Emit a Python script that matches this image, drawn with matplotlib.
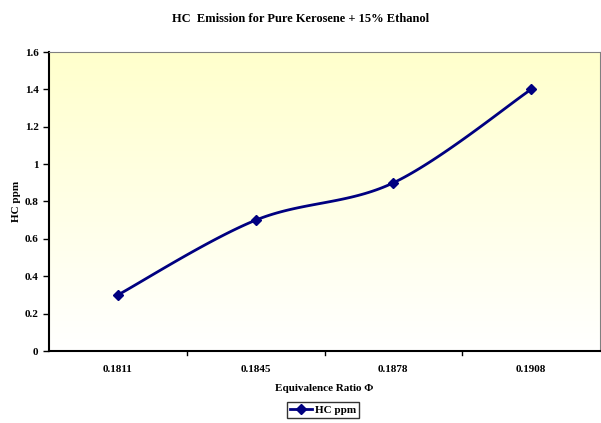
import numpy as np
import matplotlib.pyplot as plt
from matplotlib.lines import Line2D

categories = ["0.1811", "0.1845", "0.1878", "0.1908"]
hc_ppm = [0.3, 0.7, 0.9, 1.4]

plt.rcParams['font.family'] = ['Liberation Serif', 'DejaVu Serif']
plt.rcParams['font.weight'] = 'bold'

fig = plt.figure(figsize=(6.01, 4.23), dpi=100)
ax = fig.add_axes([49/601, 1 - 351/423, 551/601, 299/423])

# gradient background: pale yellow at top -> white at bottom
grad = np.linspace(0, 1, 256).reshape(-1, 1)
top = np.array([1.0, 1.0, 0.80])
bot = np.array([1.0, 1.0, 1.0])
img = bot + (top - bot) * grad[::-1]
img = np.repeat(img[:, None, :], 2, axis=1).reshape(256, 2, 3)
ax.imshow(img, extent=[0, 1, 0, 1], transform=ax.transAxes, aspect='auto', zorder=0)

# smoothed line (Catmull-Rom like Excel smoothing)
x = np.arange(len(categories), dtype=float)
y = np.array(hc_ppm, dtype=float)
px = np.concatenate([[x[0]], x, [x[-1]]])
py = np.concatenate([[y[0]], y, [y[-1]]])
sx, sy = [], []
t = np.linspace(0, 1, 40)
for i in range(1, len(px) - 2):
    p0, p1, p2, p3 = (np.array([px[j], py[j]]) for j in range(i - 1, i + 3))
    c1 = p1 + (p2 - p0) / 6
    c2 = p2 - (p3 - p1) / 6
    for tt in t:
        b = (1 - tt)**3 * p1 + 3*(1 - tt)**2*tt*c1 + 3*(1 - tt)*tt**2*c2 + tt**3*p2
        sx.append(b[0]); sy.append(b[1])
ax.plot(sx, sy, color='#000080', lw=2, zorder=3)
ax.plot(x, y, 'D', color='#000080', ms=5.5, zorder=4)

ax.set_xlim(-0.5, len(categories) - 0.5)
ax.set_ylim(0, 1.6)
ax.set_yticks(np.arange(0, 1.61, 0.2))
ax.set_yticklabels(["0", "0.2", "0.4", "0.6", "0.8", "1", "1.2", "1.4", "1.6"])
ax.set_xticks(x)
ax.set_xticklabels(categories)
ax.tick_params(axis='x', length=0, labelsize=8, pad=10)
ax.tick_params(axis='y', length=4, width=1, labelsize=8, direction='out')
for b in np.arange(0.5, len(categories) - 0.5, 1):
    ax.plot([b, b], [0, -0.022], color='black', lw=1, clip_on=False, zorder=5)

for s in ['top', 'right']:
    ax.spines[s].set_color('#808080')
for s in ['left', 'bottom']:
    ax.spines[s].set_color('black')
    ax.spines[s].set_linewidth(1.5)

ax.set_xlabel("Equivalence Ratio Φ", fontsize=8, fontweight='bold')
ax.xaxis.set_label_coords(0.5, -0.11)
ax.set_ylabel("HC ppm", fontsize=8, fontweight='bold')
ax.yaxis.set_label_coords(-0.051, 0.5)
fig.suptitle("HC  Emission for Pure Kerosene + 15% Ethanol", fontsize=9, fontweight='bold', y=0.97)

handle = Line2D([], [], color='#000080', lw=2, marker='D', ms=5)
leg = fig.legend([handle], ["HC ppm"], loc='center', bbox_to_anchor=(323/601, 1 - 410/423),
                 fontsize=8, frameon=True, fancybox=False, handlelength=2.0,
                 borderpad=0.3, handletextpad=0.2, borderaxespad=0)
leg.get_frame().set_edgecolor('black')
leg.get_frame().set_linewidth(1)

fig.savefig("out.png", dpi=100)
